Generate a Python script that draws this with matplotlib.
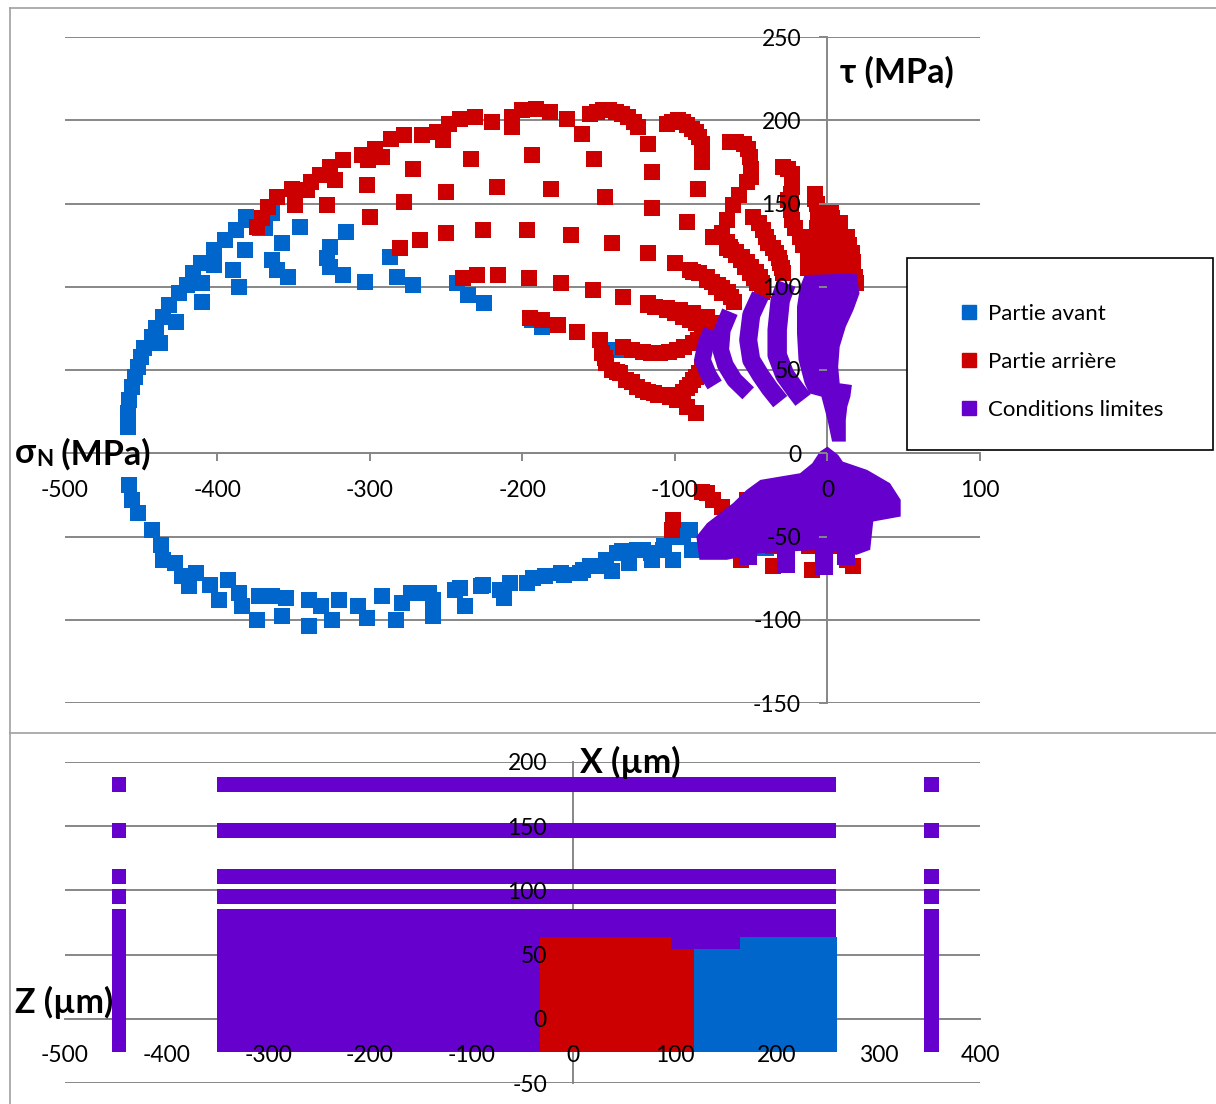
import matplotlib
matplotlib.use("Agg")
import matplotlib.pyplot as plt
from matplotlib.lines import Line2D
from matplotlib.patches import Rectangle

plt.rcParams["font.family"] = ["Lato", "DejaVu Sans"]
plt.rcParams["axes.unicode_minus"] = False

BLUE = "#0066CC"
RED = "#CC0000"
PURPLE = "#6600CC"
GRID = "#878787"

# ---- diagramme sigma_N / tau ----
blue_top_x = [-459, -459, -458, -456, -454, -452, -450, -448, -443, -440, -438, -436,
              -432, -427, -425, -420, -416, -411, -410, -410, -402, -402, -395, -388,
              -390, -386, -382, -380, -381, -372, -364, -369, -364, -361, -358, -354,
              -346, -326, -328, -326, -318, -316, -303, -287, -282, -272, -243, -236,
              -225, -194, -187, -139]
blue_top_y = [16, 24, 32, 40, 46, 52, 58, 63, 70, 75, 66, 82,
              89, 79, 96, 101, 108, 114, 91, 102, 113, 122, 128, 134,
              110, 100, 122, 140, 142, 135, 144, 135, 116, 110, 126, 106,
              136, 124, 117, 112, 107, 133, 103, 118, 106, 101, 102, 95,
              90, 80, 76, 62]

blue_bot_x = [-458, -456, -452, -443, -437, -436, -428, -423, -419, -414, -405, -399,
              -393, -386, -384, -373, -374, -364, -358, -355, -340, -340, -332, -325,
              -320, -308, -302, -292, -283, -279, -273, -269, -261, -259, -259, -244,
              -241, -238, -227, -226, -215, -212, -208, -197, -193, -185, -175, -173,
              -162, -160, -156, -145, -145, -141, -138, -135, -130, -125, -121, -116,
              -115, -108, -107, -101, -101, -95, -92, -90, -89, -80, -70, -50, -40]
blue_bot_y = [-19, -28, -36, -46, -55, -64, -66, -74, -80, -72, -79, -88,
              -76, -84, -92, -86, -100, -86, -98, -87, -88, -104, -92, -100,
              -88, -92, -99, -86, -100, -90, -84, -84, -84, -88, -98, -82,
              -81, -92, -80, -79, -82, -87, -78, -78, -75, -74, -72, -73,
              -72, -70, -68, -64, -68, -71, -60, -59, -66, -58, -58, -60,
              -64, -58, -56, -64, -50, -50, -46, -46, -58, -55, -57, -57, -57]

red_x = [-374, -371, -367, -361, -351, -349, -341, -339, -333, -328, -326, -323,
         -318, -305, -302, -300, -301, -297, -292, -286, -278, -280, -278, -272,
         -267, -266, -256, -252, -248, -241, -231, -234, -250, -250, -220, -217,
         -226, -239, -230, -216, -207, -207, -200, -194, -197, -196, -191, -182,
         -181, -171, -168, -175, -161, -156, -153, -146, -154, -147, -139, -141,
         -134, -131, -124, -118, -115, -115, -118, -118, -105, -98, -92, -86,
         -82, -82, -85, -92, -100, -105, -75, -66, -88, -79, -73, -69,
         -97, -88, -79,
         -151, -143, -135, -127, -102, -95, -89, -84, -82,
         -64, -60, -55, -51, -50, -53, -62, -69, -63, -57, -51, -46, -43,
         -52, -50, -58, -66, -66, -60, -54, -48,
         -29, -23, -23, -26, -23, -18, -13, -13,
         -26, -23, -24, -24, -21, -16, -13,
         -8, -7, -6, -8, -7, -6, -8, -6, -7, -8, -6,
         2, 8, 13, 16, 17, 19, 2, 5, 7, 12, 15, -1, 0,
         3, 6, 10, 14, 17, 18, 1, 3, 10, 11, 4, -2,
         -49, -42, -39, -34, -31, -29, -64, -56, -50, -44, -42, -90, -79, -72,
         -65, -61, -84, -75,
         -45, -40, -36, -32, -30, -60, -53, -47, -43, -84, -76, -69, -63,
         -149, -148, -145, -141, -136, -132, -128, -121, -114, -108, -99, -92,
         -88, -84, -82, -99, -92, -86, -134, -121, -110, -99, -88, -82,
         -146, -138, -125, -118, -111, -103, -95, -90, -86,
         -128, -116, -104, -94, -85,
         -118, -105, -95, -86, -79, -113, -100, -90, -82,
         -195, -187, -177, -164,
         -82, -75, -69, -101, -102, -79, -59, -57, -36, -36, -12, -10,
         4, 13, 17, -53]
red_y = [136, 141, 148, 154, 159, 149, 158, 163, 167, 149, 172, 164,
         176, 179, 161, 142, 176, 183, 178, 189, 151, 123, 191, 171,
         128, 191, 193, 188, 198, 201, 202, 177, 157, 132, 199, 160,
         134, 105, 107, 107, 196, 202, 206, 179, 134, 105, 207, 205,
         159, 201, 131, 102, 192, 204, 177, 154, 98, 206, 205, 126,
         94, 202, 196, 186, 169, 147, 120, 90, 198, 200, 197, 193,
         186, 175, 159, 139, 114, 87, 130, 123, 109, 104, 100, 96,
         86, 84, 82,
         205, 206, 204, 199, 199, 199, 195, 190, 181,
         187, 187, 186, 178, 171, 163, 149, 132, 122, 116, 108, 102, 97,
         183, 166, 155, 140, 127, 119, 112, 105,
         172, 168, 160, 152, 140, 130, 120, 111,
         171, 164, 156, 146, 135, 125, 116,
         156, 150, 140, 130, 118, 110, 153, 145, 135, 124, 114,
         144, 138, 130, 120, 110, 102, 137, 125, 113, 122, 110, 128, 117,
         141, 133, 126, 125, 115, 106, 132, 120, 117, 105, 108, 122,
         142, 134, 126, 120, 114, 108, 124, 118, 112, 106, 98, 110, 106, 101,
         97, 91, 80, 78,
         138, 130, 123, 117, 111, 121, 115, 109, 102, 108, 103, 99, 94,
         68, 60, 54, 50, 48, 44, 43, 38, 36, 35, 35, 39,
         44, 48, 52, 32, 28, 24, 64, 61, 60, 62, 66, 69,
         57, 49, 40, 37, 35, 34, 37, 41, 46,
         62, 60, 61, 64, 68,
         89, 86, 82, 78, 74, 88, 84, 80, 76,
         81, 80, 77, 73,
         -23, -28, -32, -40, -46, -24, -56, -64, -56, -68, -56, -70,
         -56, -64, -68, -28]

# bandes "conditions limites" au-dessus de l'axe
band_a1_x = [-76, -80, -82, -78, -74]
band_a1_y = [74, 65, 56, 47, 41]
band_a2_x = [-64, -69, -70, -67, -61, -52]
band_a2_y = [85, 74, 62, 53, 44, 36]
band_b_x = [-44, -50, -52, -50, -44, -38, -31]
band_b_y = [95, 83, 68, 56, 47, 39, 31]
band_c_x = [-27, -31, -33, -33, -28, -21, -16]
band_c_y = [102, 92, 74, 59, 47, 38, 32]
band_d_x = [19, 21, 17, 12, 8, 7, 8, 16, 15, 13, 12, 12,
            3, 0, -4, -12, -15, -19, -20, -20, -18, -15]
band_d_y = [108, 96, 86, 76, 64, 52, 42, 41, 34, 28, 20, 7,
            7, 20, 34, 36, 42, 56, 72, 88, 100, 107]

# zone "conditions limites" sous l'axe
blob_x = [0, 7, 10, 26, 41, 48, 48, 30, 28, 19, -5, -44, -66, -84, -86, -79,
          -62, -53, -44, -18, -10, -5]
blob_y = [4, -1, -5, -10, -18, -28, -38, -41, -58, -61, -58, -60, -64, -64, -50, -42,
          -30, -22, -16, -12, -6, 1]
finger_x = [-52, -27, -2, 12]
finger_top = [-52, -55, -55, -52]
finger_bot = [-67, -72, -73, -67]

# ---- coupe X / Z (um) ----
stripe_z0 = [176.8, 141.0, 105.0, 89.6]
stripe_z1 = [188.5, 152.6, 116.8, 101.0]
block_z0, block_z1 = -25.7, 85.7
column_x0 = [-454, 345]
column_x1 = [-440, 360]
plate_x0, plate_x1 = -350, 258
rear_x0, rear_x1, rear_top = -32.5, 119, 64
front_x0, front_x1, front_top = 119, 259, 64
notch_x0, notch_x1, notch_z0 = 96, 164, 54

labels = ["Partie avant", "Partie arrière", "Conditions limites"]


def style_axes(ax, xlim, ylim, xticks, yticks):
    ax.set_xlim(xlim)
    ax.set_ylim(ylim)
    ax.set_xticks(xticks)
    ax.set_yticks(yticks)
    ax.patch.set_visible(False)
    for s in ["top", "right"]:
        ax.spines[s].set_visible(False)
    for s in ["left", "bottom"]:
        ax.spines[s].set_position(("data", 0))
        ax.spines[s].set_color(GRID)
        ax.spines[s].set_linewidth(1.4)
        ax.spines[s].set_zorder(0.6)
    for y in yticks:
        ax.axhline(y, color=GRID, lw=1.4, zorder=0.5)
    ax.tick_params(direction="out", length=6, width=1.4, color=GRID,
                   pad=13, labelsize=16.5)


fig = plt.figure(figsize=(12.16, 11.04), dpi=100)
W, H = 1216, 1104
ax = fig.add_axes([65 / W, 1 - 703 / H, 915 / W, 666 / H])
ax2 = fig.add_axes([65 / W, 1 - 1083 / H, 915 / W, 321 / H])

style_axes(ax, (-500, 100), (-150, 250), range(-500, 101, 100), range(-150, 251, 50))
style_axes(ax2, (-500, 400), (-50, 200), range(-500, 401, 100), range(-50, 201, 50))

# haut
ms = 122
ax.scatter(blue_top_x, blue_top_y, s=ms, marker="s", color=BLUE, lw=0, zorder=1)
ax.scatter(blue_bot_x, blue_bot_y, s=ms, marker="s", color=BLUE, lw=0, zorder=1)
ax.scatter(red_x, red_y, s=ms, marker="s", color=RED, lw=0, zorder=1.1)
for bx, by, lw in [(band_a1_x, band_a1_y, 12), (band_a2_x, band_a2_y, 12),
                   (band_b_x, band_b_y, 13), (band_c_x, band_c_y, 14)]:
    ax.plot(bx, by, color=PURPLE, lw=lw, solid_capstyle="butt", zorder=1.2)
ax.fill(band_d_x, band_d_y, color=PURPLE, lw=0, zorder=1.2)
ax.fill(blob_x, blob_y, color=PURPLE, lw=0, zorder=1.2)
for fx, ft, fb in zip(finger_x, finger_top, finger_bot):
    ax.plot([fx, fx], [ft, fb], color=PURPLE, lw=13, solid_capstyle="butt", zorder=1.2)

# bas
ax2.bar(rear_x0, rear_top - block_z0, width=rear_x1 - rear_x0, bottom=block_z0,
        align="edge", color=RED, lw=0, zorder=1)
ax2.bar(front_x0, front_top - block_z0, width=front_x1 - front_x0, bottom=block_z0,
        align="edge", color=BLUE, lw=0, zorder=1)
for z0, z1 in zip(stripe_z0 + [block_z0], stripe_z1 + [block_z1]):
    ax2.bar(column_x0, z1 - z0, width=[b - a for a, b in zip(column_x0, column_x1)],
            bottom=z0, align="edge", color=PURPLE, lw=0, zorder=1.2)
for z0, z1 in zip(stripe_z0, stripe_z1):
    ax2.bar(plate_x0, z1 - z0, width=plate_x1 - plate_x0, bottom=z0,
            align="edge", color=PURPLE, lw=0, zorder=1.2)
ax2.bar(plate_x0, block_z1 - block_z0, width=rear_x0 - plate_x0, bottom=block_z0,
        align="edge", color=PURPLE, lw=0, zorder=1.2)
ax2.bar(rear_x0, block_z1 - rear_top, width=plate_x1 - rear_x0, bottom=rear_top,
        align="edge", color=PURPLE, lw=0, zorder=1.2)
ax2.bar(notch_x0, rear_top - notch_z0, width=notch_x1 - notch_x0, bottom=notch_z0,
        align="edge", color=PURPLE, lw=0, zorder=1.2)
# graduations masquees par la plaque, comme sur l'original
for t in ax2.xaxis.get_major_ticks():
    if plate_x0 < t.get_loc() < plate_x1:
        t.tick1line.set_visible(False)
for t in ax2.yaxis.get_major_ticks():
    if block_z0 < t.get_loc() < stripe_z1[0]:
        t.tick1line.set_visible(False)

# titres d'axes
tfont = dict(fontsize=24.5, weight="bold")
fig.text(840 / W, 1 - 72 / H, "τ (MPa)", va="center", ha="left", **tfont)
t1 = fig.text(15 / W, 1 - 453 / H, "σ", va="center", ha="left", **tfont)
t2 = ax.annotate("N", xy=(1, 0), xycoords=t1, xytext=(0, -1), textcoords="offset points",
                 va="bottom", ha="left", fontsize=16, weight="bold", annotation_clip=False)
ax.annotate(" (MPa)", xy=(1, 0), xycoords=t2, xytext=(0, 0), textcoords="offset points",
            va="bottom", ha="left", annotation_clip=False, **tfont)
fig.text(580 / W, 1 - 762 / H, "X (µm)", va="center", ha="left", **tfont)
fig.text(15 / W, 1 - 1002 / H, "Z (µm)", va="center", ha="left", **tfont)

# legende
fig.add_artist(Rectangle((907 / W, 1 - 450 / H), 306 / W, 192 / H, transform=fig.transFigure,
                         fc="white", ec="black", lw=1.2, zorder=4))
handles = [Line2D([], [], ls="none", marker="s", markersize=9.5, color=c)
           for c in (BLUE, RED, PURPLE)]
leg = fig.legend(handles, labels, loc="center left", bbox_to_anchor=(949 / W, 1 - 362 / H),
                 frameon=False, fontsize=16, handlelength=0.8, handletextpad=0.45,
                 labelspacing=1.25, borderpad=0)
leg.set_zorder(5)

# cadres des graphiques
for (x0, y0, x1, y1) in [(10, 8, 1216, 8), (10, 8, 10, 1104), (10, 733, 1216, 733)]:
    fig.add_artist(Line2D([x0 / W, x1 / W], [1 - y0 / H, 1 - y1 / H],
                          transform=fig.transFigure, color="#a0a0a0", lw=1.2))

fig.savefig("out.png", dpi=100)
